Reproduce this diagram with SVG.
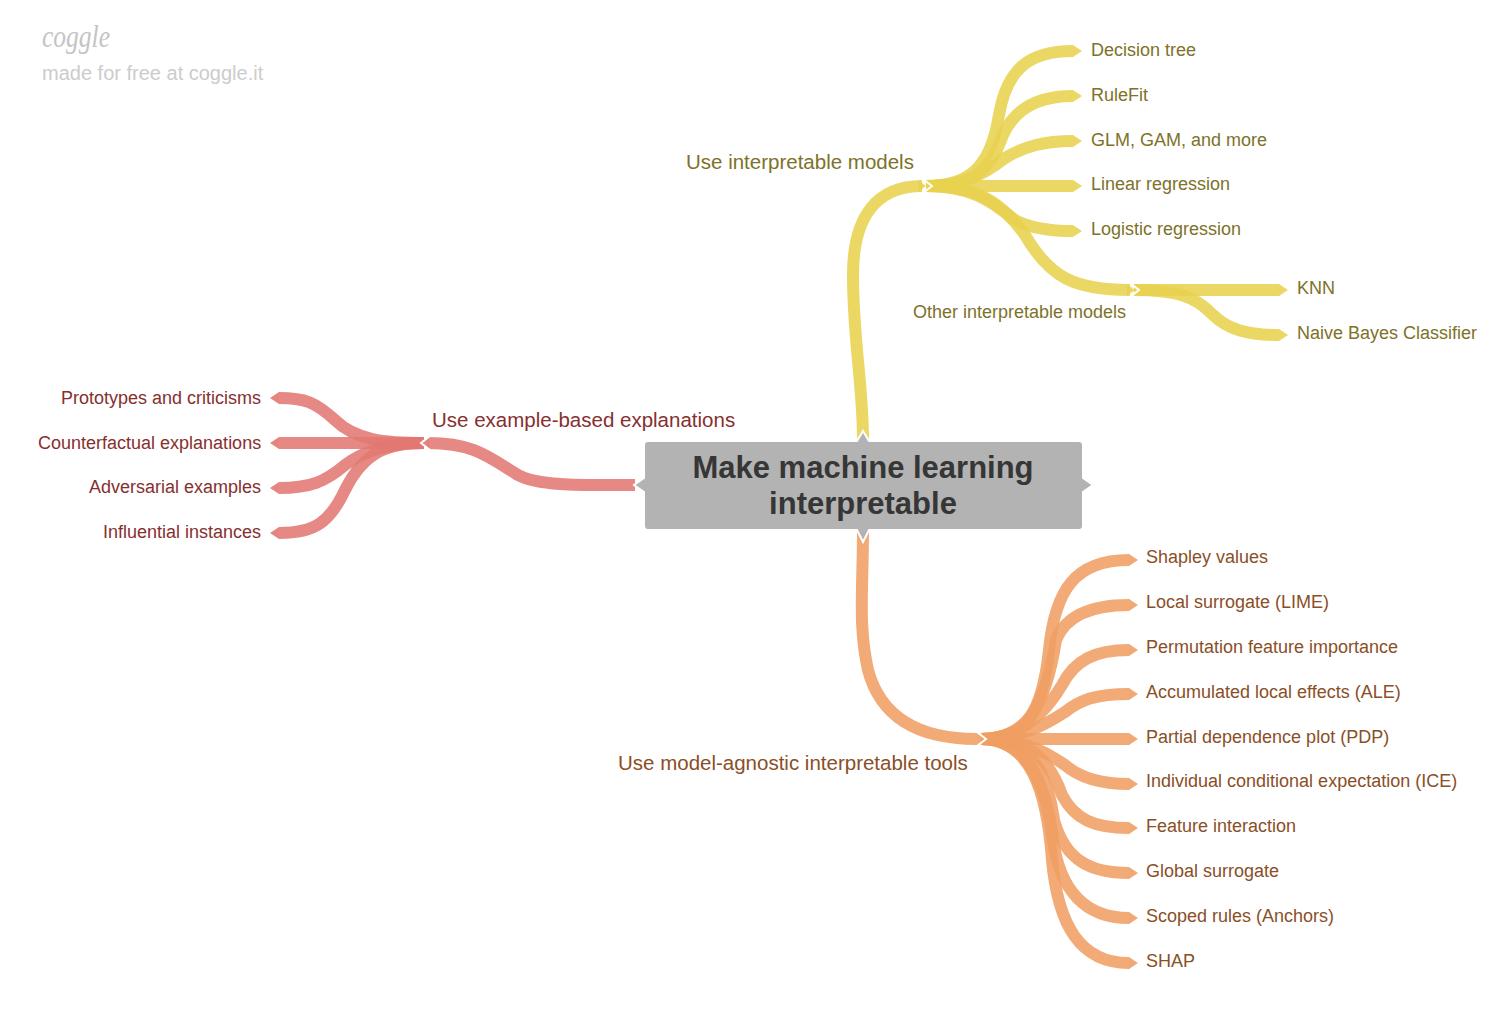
<svg xmlns="http://www.w3.org/2000/svg" width="1510" height="1021" viewBox="0 0 1510 1021">
<defs><style>
text{font-family:"Liberation Sans",Arial,sans-serif;}
.b{fill:none;stroke-width:12;stroke-opacity:.88}
.y{stroke:#e8d24f}.yt{fill:#e8d24f;fill-opacity:.88}
.o{stroke:#f09e63}.ot{fill:#f09e63;fill-opacity:.9}
.r{stroke:#e27872}.rt{fill:#e27872;fill-opacity:.9}
.c{fill:none;stroke:#fff;stroke-width:2}
.ty{fill:#7d7228;font-size:18px}.oy{fill:#7d7228;font-size:20.5px}
.to{fill:#8a4f27;font-size:18px}.oo{fill:#8a4f27;font-size:20.5px}
.tr{fill:#872f2f;font-size:18px}.or{fill:#872f2f;font-size:20.5px}
</style></defs>
<g id="watermark">
<text x="42" y="47" style="font-family:'Liberation Serif',serif;font-style:italic" font-size="32" fill="#c4c4c4" textLength="68" lengthAdjust="spacingAndGlyphs">coggle</text>
<text x="42" y="80" font-size="20" fill="#cccccc">made for free at coggle.it</text>
</g>
<g id="connectors">
<g id="yellow">
<path class="b y" d="M863 440C863 385 853 340 853 275C853 215 878 186 922 186"/>
<path class="b y" d="M926 186C965 186 990 172 999 115C1007 68 1030 51 1073 51"/>
<path class="b y" d="M926 186C965 186 988 178 1003 135C1015 108 1040 96 1073 96"/>
<path class="b y" d="M926 186C960 186 982 176 1005 158C1025 146 1045 141 1073 141"/>
<path class="b y" d="M926 186H1073"/>
<path class="b y" d="M926 186C970 186 990 200 1015 220C1030 228 1050 231 1073 231"/>
<path class="b y" d="M926 186C975 186 1000 200 1025 235C1050 278 1075 290 1130 290"/>
<path class="b y" d="M1134 290H1279"/>
<path class="b y" d="M1134 290C1175 290 1195 296 1212 314C1228 330 1248 335 1279 335"/>
<path class="yt" d="M1073 45L1082 51L1073 57ZM1073 90L1082 96L1073 102ZM1073 135L1082 141L1073 147ZM1073 180L1082 186L1073 192ZM1073 225L1082 231L1073 237ZM1279 284L1288 290L1279 296ZM1279 329L1288 335L1279 341Z"/>
<path class="yt" d="M918 180L926 186L918 192ZM1127 284L1135 290L1127 296Z"/>
</g>
<g id="orange">
<path class="b o" d="M863 530C863 590 858 625 868 670C880 715 915 739 977 739"/>
<path class="b o" d="M981 739C1025 739 1042 715 1049 650C1055 590 1075 560 1129 560"/>
<path class="b o" d="M981 739C1025 739 1045 710 1056 640C1064 620 1085 605 1129 605"/>
<path class="b o" d="M981 739C1025 739 1050 705 1062 685C1075 660 1095 650 1129 650"/>
<path class="b o" d="M981 739C1020 739 1045 725 1065 712C1080 700 1095 694 1129 694"/>
<path class="b o" d="M981 739H1129"/>
<path class="b o" d="M981 739C1020 739 1040 748 1065 765C1080 778 1100 784 1129 784"/>
<path class="b o" d="M981 739C1025 739 1048 755 1062 795C1075 820 1095 828 1129 828"/>
<path class="b o" d="M981 739C1030 739 1047 770 1054 820C1065 860 1090 873 1129 873"/>
<path class="b o" d="M981 739C1030 739 1047 790 1053 840C1060 890 1085 918 1129 918"/>
<path class="b o" d="M981 739C1030 739 1047 790 1052 860C1058 925 1080 963 1129 963"/>
<path class="ot" d="M1129 554L1138 560L1129 566ZM1129 599L1138 605L1129 611ZM1129 644L1138 650L1129 656ZM1129 688L1138 694L1129 700ZM1129 733L1138 739L1129 745ZM1129 778L1138 784L1129 790ZM1129 822L1138 828L1129 834ZM1129 867L1138 873L1129 879ZM1129 912L1138 918L1129 924ZM1129 957L1138 963L1129 969Z"/>
<path class="ot" d="M977 733L985 739L977 745Z"/>
</g>
<g id="red">
<path class="b r" d="M635 485C590 485 540 487 518 475C490 458 475 443 428 443"/>
<path class="b r" d="M424 443C385 443 355 440 335 420C315 402 305 398 279 398"/>
<path class="b r" d="M424 443H279"/>
<path class="b r" d="M424 443C390 443 365 450 345 465C325 482 310 488 279 488"/>
<path class="b r" d="M424 443C390 443 365 450 345 490C330 522 315 533 279 533"/>
<path class="rt" d="M279 392L270 398L279 404ZM279 437L270 443L279 449ZM279 482L270 488L279 494ZM279 527L270 533L279 539Z"/>
<path class="rt" d="M429 437L422 443L429 449Z"/>
</g>
<g id="joints">
<path class="c" d="M918 179L927 186L918 193" transform="translate(5 0)"/>
<path class="c" d="M1127 283L1136 290L1127 297" transform="translate(3 0)"/>
<path class="c" d="M977 732L986 739L977 746"/>
<path class="c" d="M430 436L421 443L430 450"/>
</g>
</g>
<g id="root">
<path d="M644 445Q644 441 648 441H857L863 431L869 441H1079Q1083 441 1083 445V478L1093 485L1083 492V526Q1083 530 1079 530H869L863 542L857 530H648Q644 530 644 526V492L634 485L644 478Z" fill="#b3b3b3" stroke="#fff" stroke-width="2"/>
<text x="863" y="478" text-anchor="middle" font-size="31" font-weight="700" fill="#363636">Make machine learning</text>
<text x="863" y="514" text-anchor="middle" font-size="31" font-weight="700" fill="#363636">interpretable</text>
</g>
<g id="n1"><text class="oy" x="686" y="169">Use interpretable models</text></g>
<g id="n2"><text class="ty" x="1091" y="56">Decision tree</text></g>
<g id="n3"><text class="ty" x="1091" y="101">RuleFit</text></g>
<g id="n4"><text class="ty" x="1091" y="146">GLM, GAM, and more</text></g>
<g id="n5"><text class="ty" x="1091" y="190">Linear regression</text></g>
<g id="n6"><text class="ty" x="1091" y="235">Logistic regression</text></g>
<g id="n7"><text class="ty" x="913" y="318">Other interpretable models</text></g>
<g id="n8"><text class="ty" x="1297" y="294">KNN</text></g>
<g id="n9"><text class="ty" x="1297" y="339">Naive Bayes Classifier</text></g>
<g id="n10"><text class="or" x="432" y="427">Use example-based explanations</text></g>
<g id="n11"><text class="tr" x="61" y="404">Prototypes and criticisms</text></g>
<g id="n12"><text class="tr" x="38" y="449">Counterfactual explanations</text></g>
<g id="n13"><text class="tr" x="89" y="493">Adversarial examples</text></g>
<g id="n14"><text class="tr" x="103" y="538">Influential instances</text></g>
<g id="n15"><text class="oo" x="618" y="770">Use model-agnostic interpretable tools</text></g>
<g id="n16"><text class="to" x="1146" y="563">Shapley values</text></g>
<g id="n17"><text class="to" x="1146" y="608">Local surrogate (LIME)</text></g>
<g id="n18"><text class="to" x="1146" y="653">Permutation feature importance</text></g>
<g id="n19"><text class="to" x="1146" y="698">Accumulated local effects (ALE)</text></g>
<g id="n20"><text class="to" x="1146" y="743">Partial dependence plot (PDP)</text></g>
<g id="n21"><text class="to" x="1146" y="787">Individual conditional expectation (ICE)</text></g>
<g id="n22"><text class="to" x="1146" y="832">Feature interaction</text></g>
<g id="n23"><text class="to" x="1146" y="877">Global surrogate</text></g>
<g id="n24"><text class="to" x="1146" y="922">Scoped rules (Anchors)</text></g>
<g id="n25"><text class="to" x="1146" y="967">SHAP</text></g>
</svg>
